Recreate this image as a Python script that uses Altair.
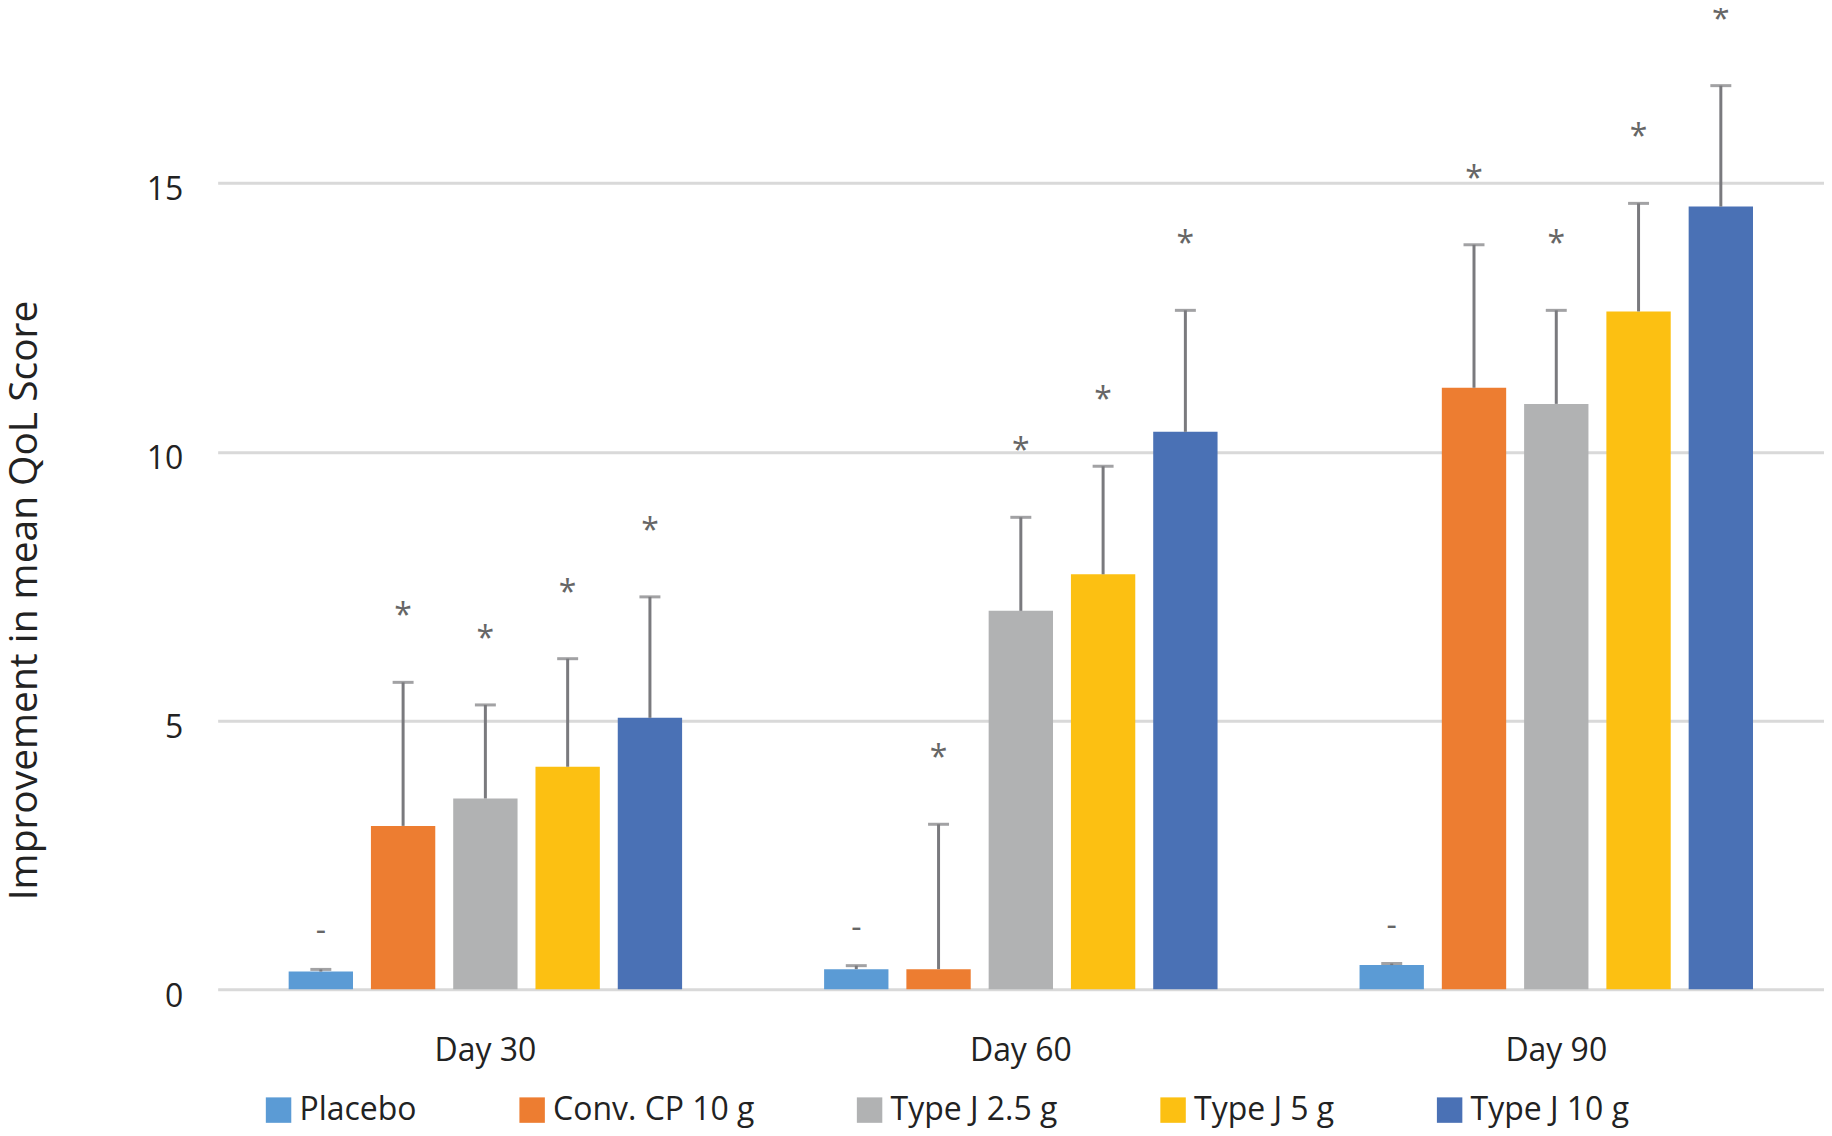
import altair as alt
import pandas as pd

days = ["Day 30", "Day 60", "Day 90"]
groups = ["Placebo", "Conv. CP 10 g", "Type J 2.5 g", "Type J 5 g", "Type J 10 g"]
colors = ["#5B9BD5", "#ED7D31", "#B1B2B3", "#FCC012", "#4A71B5"]

mean_day30 = [0.33, 3.04, 3.55, 4.14, 5.05]
mean_day60 = [0.375, 0.375, 7.04, 7.72, 10.37]
mean_day90 = [0.45, 11.19, 10.89, 12.61, 14.56]

upper_day30 = [0.37, 5.71, 5.29, 6.15, 7.30]
upper_day60 = [0.44, 3.07, 8.78, 9.73, 12.63]
upper_day90 = [0.48, 13.85, 12.63, 14.62, 16.81]

sig_day30 = ["-", "*", "*", "*", "*"]
sig_day60 = ["-", "*", "*", "*", "*"]
sig_day90 = ["-", "*", "*", "*", "*"]

rows = []
for d, ms, us, ss in [
    ("Day 30", mean_day30, upper_day30, sig_day30),
    ("Day 60", mean_day60, upper_day60, sig_day60),
    ("Day 90", mean_day90, upper_day90, sig_day90),
]:
    for g, m, u, s in zip(groups, ms, us, ss):
        rows.append({"day": d, "group": g, "mean": m, "upper": u, "sig": s})
df = pd.DataFrame(rows)

FONT = "Open Sans"
TXT = "#222222"
ERR = "#7A7A7E"

x = alt.X(
    "day:N",
    sort=days,
    title=None,
    scale=alt.Scale(paddingInner=0, paddingOuter=0),
    axis=alt.Axis(
        labelAngle=0, ticks=False, tickSize=0, domain=False, grid=False,
        labelPadding=46, labelFontSize=32, labelFont=FONT, labelColor=TXT,
    ),
)
xo = alt.XOffset(
    "group:N", sort=groups,
    scale=alt.Scale(paddingInner=0.218, paddingOuter=0.863),
)
yscale = alt.Scale(domain=[0, 18.2], nice=False)

y = alt.Y(
    "mean:Q",
    scale=yscale,
    axis=alt.Axis(
        values=[0, 5, 10, 15],
        grid=True, gridColor="#D9D9D9", gridWidth=3,
        domain=False, ticks=False, tickSize=0,
        labelPadding=35, labelFontSize=32, labelFont=FONT, labelColor=TXT,
        labelOffset=7,
        title="Improvement in mean QoL Score",
        titleFont=FONT, titleFontSize=39, titleFontWeight="normal", titleColor=TXT,
        titleX=-193, titleY=590, titleAlign="center", titleBaseline="middle",
        titleAngle=270,
    ),
)

color = alt.Color(
    "group:N",
    sort=groups,
    scale=alt.Scale(domain=groups, range=colors),
    legend=alt.Legend(
        orient="none", legendX=45, legendY=1085, direction="horizontal",
        title=None, symbolType="square", symbolSize=650, symbolStrokeWidth=0,
        symbolOpacity=1, labelFontSize=32, labelFont=FONT, labelColor=TXT,
        labelOffset=5, columnPadding=99, labelLimit=0, padding=0,
    ),
)

base = alt.Chart(df)

bars = base.mark_bar().encode(x=x, xOffset=xo, y=y, color=color)

stems = base.mark_rule(color=ERR, strokeWidth=3).encode(
    x=x, xOffset=xo, y=alt.Y("mean:Q", scale=yscale), y2="upper:Q"
)
caps = base.mark_tick(color=ERR, thickness=3, size=21, orient="horizontal").encode(
    x=x, xOffset=xo, y=alt.Y("upper:Q", scale=yscale)
)

stars = base.transform_filter(alt.datum.sig == "*").mark_text(
    font=FONT, fontSize=32, color="#666666", baseline="alphabetic", dy=-56
).encode(x=x, xOffset=xo, y=alt.Y("upper:Q", scale=yscale), text="sig:N")

dashes = base.transform_filter(alt.datum.sig == "-").mark_text(
    font=FONT, fontSize=32, color="#666666", baseline="alphabetic", dy=-28
).encode(x=x, xOffset=xo, y=alt.Y("upper:Q", scale=yscale), text="sig:N")

chart = (
    alt.layer(bars, stems, caps, stars, dashes)
    .properties(
        width=1609,
        height=980,
        autosize=alt.AutoSizeParams(type="none"),
        padding={"left": 210, "top": 2, "right": 0, "bottom": 138},
    )
    .configure(font=FONT, view=alt.ViewConfig(stroke=None))
)

chart.save("out.html", embed_options={"renderer": "svg", "actions": False})
